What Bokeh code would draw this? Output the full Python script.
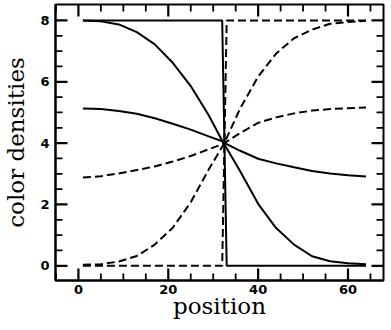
from bokeh.plotting import figure
from bokeh.models import Range1d, FixedTicker
from bokeh.embed import file_html
from bokeh.resources import INLINE

# ---- data ----
x_curve = [1, 5, 9, 13, 17, 21, 25, 29, 32, 33, 36, 40, 44, 48, 52, 56, 60, 64]
solid_steep = [8.0, 7.97, 7.87, 7.62, 7.22, 6.62, 5.86, 4.91, 4.08, 3.83, 3.08, 2.02, 1.23, 0.69, 0.31, 0.15, 0.08, 0.05]
dashed_steep = [0.03, 0.05, 0.14, 0.32, 0.69, 1.24, 2.07, 3.14, 3.88, 4.17, 5.13, 6.17, 6.92, 7.42, 7.70, 7.89, 7.95, 7.99]
solid_mid = [5.13, 5.11, 5.05, 4.96, 4.81, 4.63, 4.44, 4.22, 4.06, 3.97, 3.75, 3.49, 3.34, 3.21, 3.09, 3.01, 2.95, 2.91]
dashed_mid = [2.88, 2.92, 3.01, 3.12, 3.24, 3.40, 3.58, 3.80, 3.96, 4.05, 4.33, 4.66, 4.84, 4.97, 5.06, 5.11, 5.14, 5.16]

step_x = [1, 32, 33, 64]
solid_step = [8, 8, 0, 0]
dashed_step = [0, 0, 8, 8]

x_major = [0, 20, 40, 60]
x_minor = [-5, 5, 10, 15, 25, 30, 35, 45, 50, 55, 65]
y_major = [0, 2, 4, 6, 8]
y_minor = [0.5, 1, 1.5, 2.5, 3, 3.5, 4.5, 5, 5.5, 6.5, 7, 7.5]

x_lim = (-5.1, 67.9)
y_lim = (-0.48, 8.52)

x_label = "position"
y_label = "color densities"

LABEL_FONT = "DejaVu Serif"
TICK_FONT = "DejaVu Sans"

FRAME_W, FRAME_H = 328, 276
p = figure(frame_width=FRAME_W, frame_height=FRAME_H,
           x_range=Range1d(*x_lim), y_range=Range1d(*y_lim),
           output_backend="svg", toolbar_location=None,
           min_border_left=53, min_border_right=2, min_border_top=4, min_border_bottom=42,
           x_axis_label=x_label, y_axis_label=y_label)

p.xgrid.visible = False
p.ygrid.visible = False
p.outline_line_color = "black"
p.outline_line_width = 2
p.background_fill_color = "white"
p.border_fill_color = "white"

for ax, ticks, minors in ((p.xaxis[0], x_major, x_minor), (p.yaxis[0], y_major, y_minor)):
    ax.ticker = FixedTicker(ticks=ticks, minor_ticks=minors)
    ax.major_tick_in = 0
    ax.major_tick_out = 0
    ax.minor_tick_in = 0
    ax.minor_tick_out = 0
    ax.axis_line_width = 2
    ax.axis_line_color = "black"
    ax.major_label_text_font = TICK_FONT
    ax.major_label_text_font_style = "bold"
    ax.major_label_text_font_size = "13px"
    ax.major_label_text_color = "black"
    ax.axis_label_text_font = LABEL_FONT
    ax.axis_label_text_font_style = "normal"
    ax.axis_label_text_font_size = "23px"
    ax.axis_label_text_color = "black"

p.xaxis[0].major_label_standoff = 4
p.xaxis[0].axis_label_standoff = -4
p.yaxis[0].major_label_standoff = 6
p.yaxis[0].axis_label_standoff = 8

# inward ticks on all four sides, filled thin bars built from the tick lists
MAJ_PX, MIN_PX = 12, 7
ux = (x_lim[1] - x_lim[0]) / FRAME_W   # data units per pixel
uy = (y_lim[1] - y_lim[0]) / FRAME_H

def vticks(xs, npx, wpx):
    n = len(xs)
    left = [v - wpx * ux / 2 for v in xs]
    right = [v + wpx * ux / 2 for v in xs]
    p.quad(left=left, right=right, bottom=[y_lim[0]] * n, top=[y_lim[0] + npx * uy] * n,
           fill_color="black", line_color=None)
    p.quad(left=left, right=right, bottom=[y_lim[1] - npx * uy] * n, top=[y_lim[1]] * n,
           fill_color="black", line_color=None)

def hticks(ys, npx, wpx):
    n = len(ys)
    bottom = [v - wpx * uy / 2 for v in ys]
    top = [v + wpx * uy / 2 for v in ys]
    p.quad(left=[x_lim[0]] * n, right=[x_lim[0] + npx * ux] * n, bottom=bottom, top=top,
           fill_color="black", line_color=None)
    p.quad(left=[x_lim[1] - npx * ux] * n, right=[x_lim[1]] * n, bottom=bottom, top=top,
           fill_color="black", line_color=None)

vticks(x_major, MAJ_PX, 2.2)
vticks(x_minor, MIN_PX, 1.8)
hticks(y_major, MAJ_PX, 2.2)
hticks(y_minor, MIN_PX, 1.8)

# curves
p.line(step_x, solid_step, line_color="black", line_width=2)
p.line(step_x, dashed_step, line_color="black", line_width=2, line_dash="8 4")
p.line(x_curve, solid_steep, line_color="black", line_width=2)
p.line(x_curve, solid_mid, line_color="black", line_width=2)
p.line(x_curve, dashed_steep, line_color="black", line_width=2, line_dash="8 4")
p.line(x_curve, dashed_mid, line_color="black", line_width=2, line_dash="8 4")

open("out.html", "w").write(file_html(p, INLINE))
